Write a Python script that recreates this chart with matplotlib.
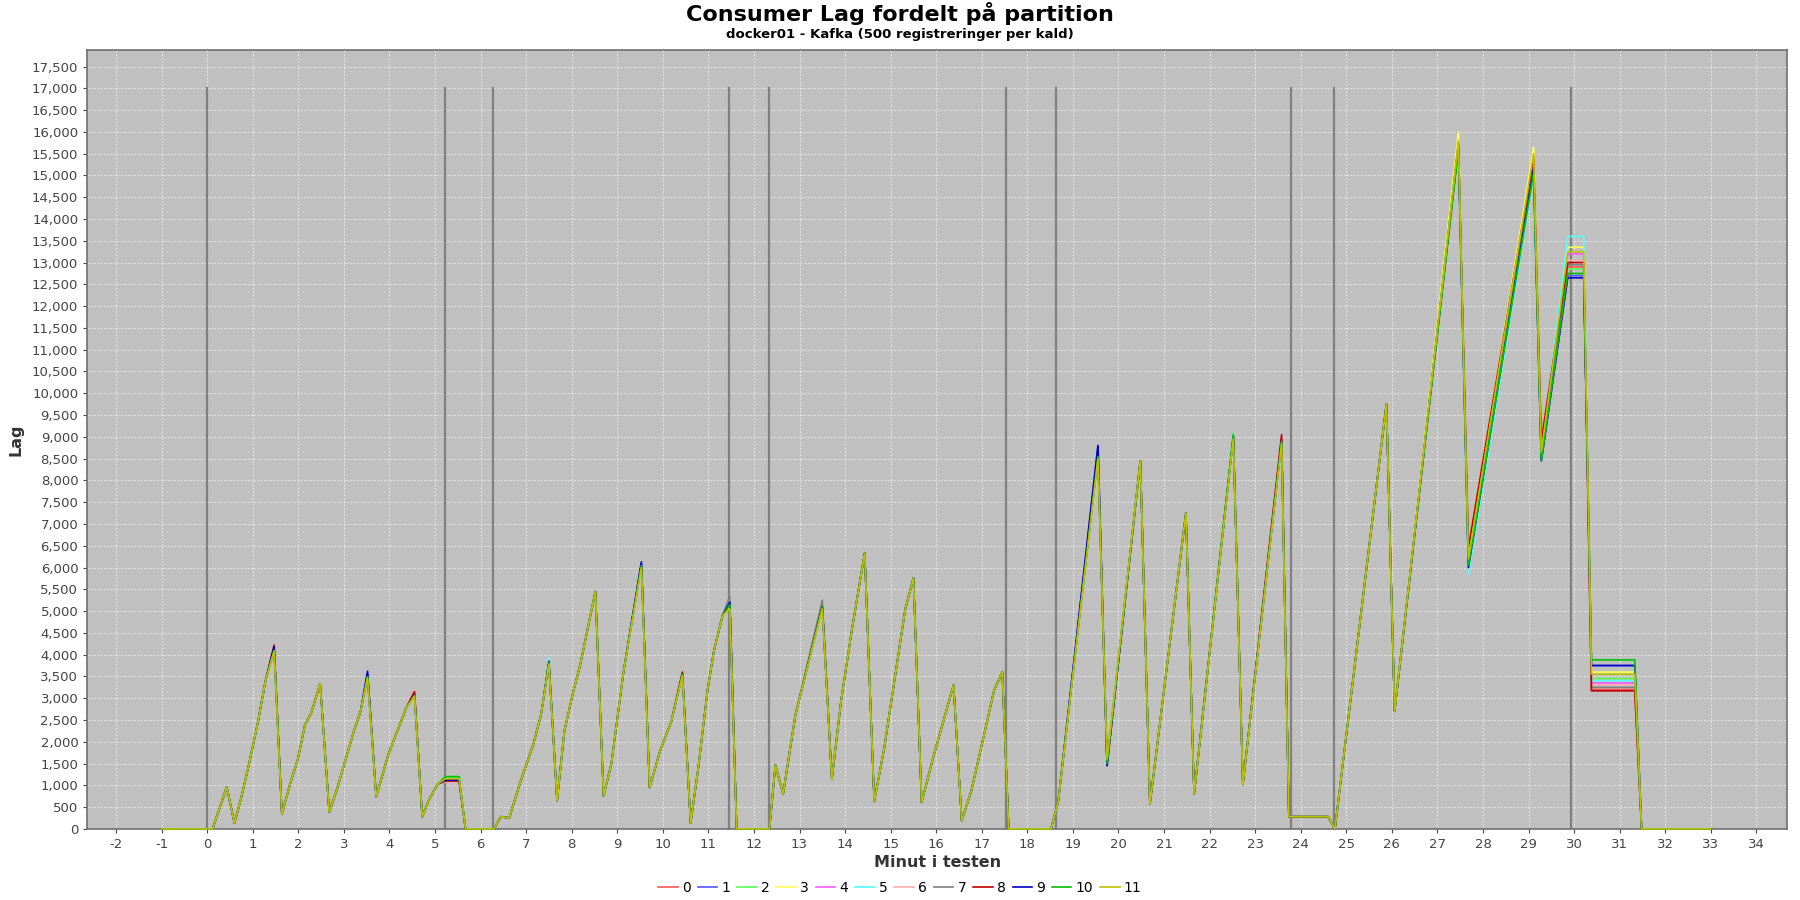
import numpy as np
import matplotlib.pyplot as plt
from matplotlib.ticker import FuncFormatter, MultipleLocator

plt.rcParams['axes.unicode_minus'] = False

# shared shape of all 12 partitions (minute, lag)
minute = [-1.0, 0.12, 0.43, 0.6, 0.75, 0.92, 1.12, 1.28, 1.47, 1.64, 1.82, 1.99, 2.15, 2.28,
          2.48, 2.68, 2.85, 3.2, 3.37, 3.52, 3.71, 3.98, 4.37, 4.55, 4.72, 4.86, 5.06, 5.23,
          5.53, 5.67, 6.29, 6.45, 6.63, 6.86, 7.16, 7.33, 7.5, 7.68, 7.84, 8.04, 8.19, 8.52,
          8.7, 8.87, 9.14, 9.53, 9.71, 9.94, 10.19, 10.43, 10.61, 10.78, 10.98, 11.12, 11.31,
          11.47, 11.62, 12.34, 12.47, 12.64, 12.91, 13.5, 13.71, 13.91, 14.14, 14.43, 14.64,
          14.86, 15.32, 15.5, 15.68, 15.95, 16.38, 16.56, 16.77, 17.27, 17.45, 17.59, 18.52,
          18.68, 19.55, 19.75, 20.48, 20.69, 21.48, 21.66, 22.52, 22.73, 23.58, 23.74, 24.6,
          24.75, 25.88, 26.06, 27.46, 27.68, 29.11, 29.28, 29.86, 30.21, 30.38, 31.33, 31.48,
          33.0]
lag = [0, 0, 960, 130, 725, 1490, 2480, 3400, 4100, 340, 1030, 1600, 2400, 2650,
       3330, 380, 915, 2175, 2710, 3500, 740, 1720, 2780, 3080, 280, 650, 1030, 1150,
       1150, 0, 0, 280, 250, 1030, 1950, 2630, 3800, 650, 2250, 3170, 3780, 5450,
       760, 1490, 3620, 6050, 950, 1790, 2480, 3550, 130, 1410, 3170, 4080, 4900,
       5150, 0, 0, 1460, 800, 2615, 5100, 1140, 2920, 4510, 6330, 630,
       1860, 5040, 5760, 610, 1700, 3300, 190, 870, 3180, 3600, 0, 0,
       640, 8550, 1500, 8450, 570, 7250, 800, 9000, 1020, 8900, 280, 280,
       0, 9750, 2700, 15700, 6100, 15200, 8600, 12950, 12950, 3500, 3500, 0,
       0]

# where the partitions differ: minute -> lag for partition 0..11
spread = {
    1.47: [4150, 4120, 4100, 4100, 4100, 4100, 4150, 4100, 4220, 4180, 4100, 4080],
    3.52: [3500, 3560, 3480, 3480, 3480, 3480, 3500, 3480, 3520, 3620, 3500, 3470],
    4.55: [3170, 3080, 3080, 3080, 3100, 3080, 3170, 3080, 3150, 3080, 3060, 3050],
    5.23: [1090, 1130, 1200, 1150, 1100, 1150, 1080, 1140, 1100, 1120, 1200, 1150],
    5.53: [1090, 1130, 1200, 1150, 1100, 1150, 1080, 1140, 1100, 1120, 1200, 1150],
    7.5: [3800, 3820, 3850, 3900, 3800, 3930, 3800, 3800, 3800, 3850, 3820, 3780],
    9.53: [6050, 6100, 6050, 6050, 6050, 6050, 6050, 6050, 6080, 6130, 6050, 6000],
    10.43: [3550, 3550, 3550, 3550, 3500, 3550, 3550, 3550, 3600, 3550, 3550, 3520],
    11.47: [5150, 5200, 5150, 5100, 5150, 5200, 5150, 5340, 5150, 5200, 5150, 5050],
    13.5: [5100, 5100, 5100, 5100, 5100, 5100, 5150, 5250, 5100, 5100, 5100, 5050],
    19.55: [8550, 8800, 8550, 8500, 8550, 8550, 8550, 8550, 8600, 8800, 8550, 8500],
    19.75: [1500, 1450, 1500, 1550, 1500, 1500, 1500, 1500, 1500, 1450, 1500, 1600],
    22.52: [9000, 9000, 9100, 9000, 9000, 9050, 9000, 9000, 9000, 9000, 9050, 8950],
    23.58: [8950, 8900, 8900, 8900, 8900, 8900, 8900, 8900, 9050, 8900, 8900, 8850],
    27.46: [15700, 15700, 15750, 16000, 15700, 15700, 15700, 15700, 15750, 15650, 15600, 15800],
    27.68: [6300, 6000, 6100, 6300, 6150, 5850, 6200, 6150, 6450, 6000, 6050, 6200],
    29.11: [15300, 15150, 15100, 15650, 15250, 15000, 15300, 15200, 15400, 15150, 15050, 15500],
    29.28: [8800, 8450, 8600, 8700, 8600, 8600, 8700, 8600, 8900, 8450, 8450, 8650],
    29.86: [12900, 12700, 12850, 13350, 13200, 13600, 13050, 12950, 13000, 12650, 12750, 13250],
    30.21: [12900, 12700, 12850, 13350, 13200, 13600, 13050, 12950, 13000, 12650, 12750, 13250],
    30.38: [3200, 3750, 3450, 3600, 3350, 3400, 3300, 3250, 3170, 3750, 3880, 3550],
    31.33: [3200, 3750, 3450, 3600, 3350, 3400, 3300, 3250, 3170, 3750, 3880, 3550],
}

partitions = [str(i) for i in range(12)]
colors = ['#FF5555', '#5555FF', '#55FF55', '#FFFF55', '#FF55FF', '#55FFFF',
          '#FFAFAF', '#808080', '#C00000', '#0000C0', '#00C000', '#C0C000']

# restarts / markers
markers = [0, 5.22, 6.27, 11.46, 12.32, 17.54, 18.62, 23.78, 24.72, 29.93]

fig = plt.figure(figsize=(18, 9), dpi=100)
ax = fig.add_axes([0.0485, 0.079, 0.9445, 0.865])
ax.set_facecolor('#C0C0C0')

for m in markers:
    ax.plot([m, m], [0, 17000], color='#808080', lw=1.6, zorder=1)

for p in range(12):
    y = list(lag)
    for k, vals in spread.items():
        y[minute.index(k)] = vals[p]
    ax.plot(minute, y, color=colors[p], lw=1.2, label=partitions[p], zorder=3,
            clip_on=False)

ax.set_xlim(-2.63, 34.68)
ax.set_ylim(0, 17870)
ax.xaxis.set_major_locator(MultipleLocator(1))
ax.yaxis.set_major_locator(MultipleLocator(500))
ax.yaxis.set_major_formatter(FuncFormatter(lambda v, pos: f'{int(v):,}'))
ax.grid(True, color='#f4f4f4', linestyle=(0, (2, 2)), lw=0.6, alpha=0.9)
ax.set_axisbelow(True)

for s in ax.spines.values():
    s.set_color('#707070')
    s.set_linewidth(1.2)
ax.tick_params(labelsize=9.5, colors='#444444', length=3, width=0.8)

ax.set_xlabel('Minut i testen', fontsize=11.5, fontweight='bold', color='#333333', labelpad=3)
ax.set_ylabel('Lag', fontsize=11.5, fontweight='bold', color='#333333', labelpad=6)

fig.text(0.5, 0.985, 'Consumer Lag fordelt på partition', ha='center', va='center',
         fontsize=16, fontweight='bold')
fig.text(0.5, 0.962, 'docker01 - Kafka (500 registreringer per kald)', ha='center', va='center',
         fontsize=9.5, fontweight='bold')

fig.legend(loc='lower center', bbox_to_anchor=(0.5, -0.008), ncol=12, frameon=False,
           fontsize=10, handlelength=1.4, columnspacing=0.5, handletextpad=0.3)

fig.savefig('out.png', dpi=100)
